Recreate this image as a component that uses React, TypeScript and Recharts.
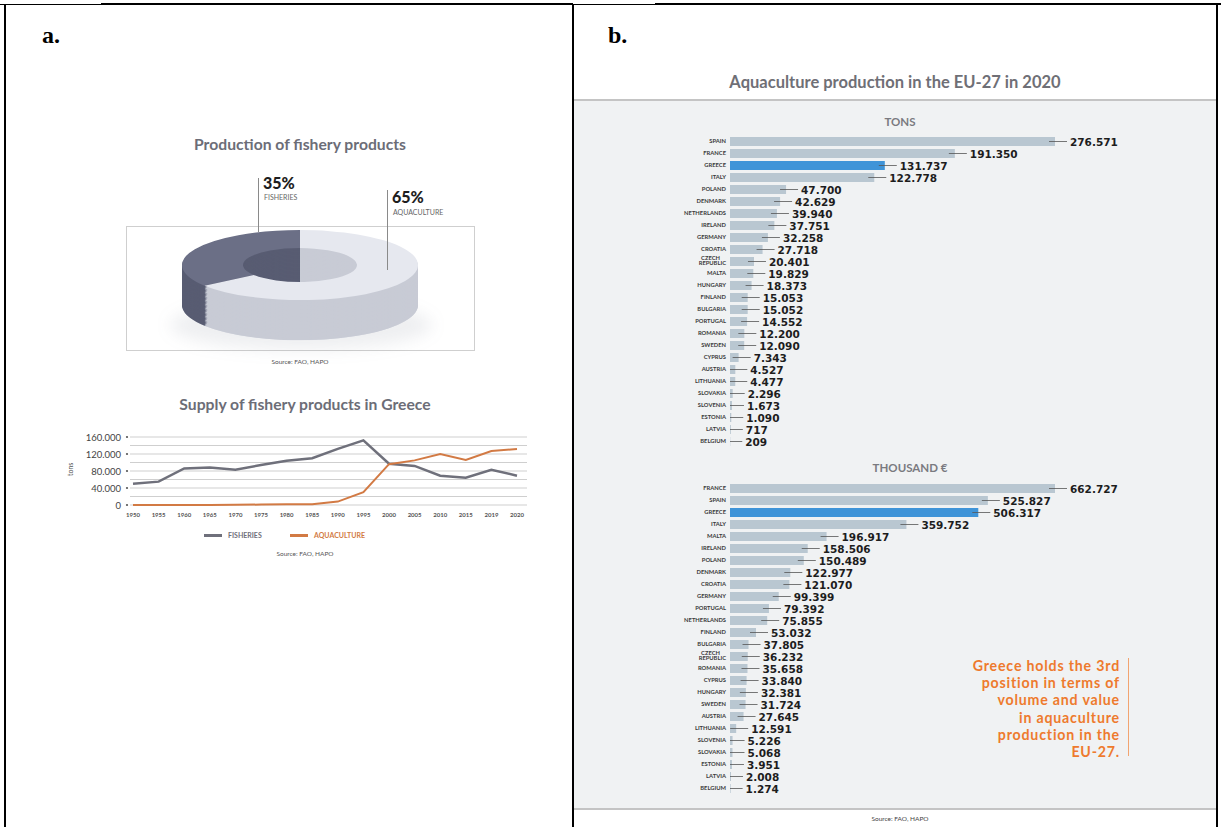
import React from 'react';
import {
  PieChart,
  Pie,
  Cell,
  LineChart,
  Line,
  XAxis,
  YAxis,
  CartesianGrid,
  BarChart,
  Bar,
  LabelList,
} from 'recharts';

// Production shares (%)
const shareLabels = ['FISHERIES', 'AQUACULTURE'];
const shareValues = [35, 65];

// Supply of fishery products in Greece (tons)
const years = ['1950', '1955', '1960', '1965', '1970', '1975', '1980', '1985', '1990', '1995', '2000', '2005', '2010', '2015', '2019', '2020'];
const fisheries = [50000, 55000, 86000, 88000, 83000, 94000, 104000, 110000, 132000, 152000, 97000, 92000, 69000, 64000, 83000, 69000];
const aquaculture = [0, 0, 0, 0, 500, 1000, 1500, 2000, 8000, 30000, 96000, 105000, 120000, 106000, 127000, 131737];
const supplyTicks = [0, 20000, 40000, 60000, 80000, 100000, 120000, 140000, 160000];

// EU-27 aquaculture 2020, tons
const tonsCountries = ['SPAIN', 'FRANCE', 'GREECE', 'ITALY', 'POLAND', 'DENMARK', 'NETHERLANDS', 'IRELAND', 'GERMANY', 'CROATIA', 'CZECH REPUBLIC', 'MALTA', 'HUNGARY', 'FINLAND', 'BULGARIA', 'PORTUGAL', 'ROMANIA', 'SWEDEN', 'CYPRUS', 'AUSTRIA', 'LITHUANIA', 'SLOVAKIA', 'SLOVENIA', 'ESTONIA', 'LATVIA', 'BELGIUM'];
const tonsValues = [276571, 191350, 131737, 122778, 47700, 42629, 39940, 37751, 32258, 27718, 20401, 19829, 18373, 15053, 15052, 14552, 12200, 12090, 7343, 4527, 4477, 2296, 1673, 1090, 717, 209];

// EU-27 aquaculture 2020, thousand €
const euroCountries = ['FRANCE', 'SPAIN', 'GREECE', 'ITALY', 'MALTA', 'IRELAND', 'POLAND', 'DENMARK', 'CROATIA', 'GERMANY', 'PORTUGAL', 'NETHERLANDS', 'FINLAND', 'BULGARIA', 'CZECH REPUBLIC', 'ROMANIA', 'CYPRUS', 'HUNGARY', 'SWEDEN', 'AUSTRIA', 'LITHUANIA', 'SLOVENIA', 'SLOVAKIA', 'ESTONIA', 'LATVIA', 'BELGIUM'];
const euroValues = [662727, 525827, 506317, 359752, 196917, 158506, 150489, 122977, 121070, 99399, 79392, 75855, 53032, 37805, 36232, 35658, 33840, 32381, 31724, 27645, 12591, 5226, 5068, 3951, 2008, 1274];

const noteLines = ['Greece holds the 3rd', 'position in terms of', 'volume and value', 'in aquaculture', 'production in the', 'EU-27.'];

const shareData = shareLabels.map((name, i) => ({ name, value: shareValues[i] }));
const supplyData = years.map((year, i) => ({ year, fisheries: fisheries[i], aquaculture: aquaculture[i] }));
const tonsData = tonsCountries.map((country, i) => ({ country, value: tonsValues[i] }));
const euroData = euroCountries.map((country, i) => ({ country, value: euroValues[i] }));

const SANS = 'Lato, "Open Sans", sans-serif';
const NUM = '"DejaVu Sans", Lato, sans-serif';
const fmt = (v: number) => String(v).replace(/\B(?=(\d{3})+(?!\d))/g, '.');

const topColors = ['#6b6f86', '#e6e8ef'];
const sideColors = ['#585c72', '#c8cbd5'];

// extruded donut: stacked rings, squashed vertically
const DEPTH = 135;
const LAYERS = 30;

const Donut3D = () => {
  const layers = Array.from({ length: LAYERS }, (_, i) => 118 + DEPTH - (i * DEPTH) / LAYERS);
  return (
    <PieChart width={236} height={236 + DEPTH} margin={{ top: 0, right: 0, bottom: 0, left: 0 }}>
      <Pie
        data={[{ value: 1 }]}
        dataKey="value"
        cx={118}
        cy={118 + DEPTH}
        outerRadius={118}
        innerRadius={0}
        fill="#d5d8e0"
        stroke="none"
        isAnimationActive={false}
      />
      {layers.map((cy, li) => (
        <Pie
          key={li}
          data={shareData}
          dataKey="value"
          cx={118}
          cy={cy}
          outerRadius={118}
          innerRadius={57}
          startAngle={90}
          endAngle={450}
          stroke="none"
          isAnimationActive={false}
        >
          {shareData.map((d, i) => (
            <Cell key={d.name} fill={sideColors[i]} />
          ))}
        </Pie>
      ))}
      <Pie
        data={shareData}
        dataKey="value"
        cx={118}
        cy={118}
        outerRadius={118}
        innerRadius={57}
        startAngle={90}
        endAngle={450}
        stroke="none"
        isAnimationActive={false}
      >
        {shareData.map((d, i) => (
          <Cell key={d.name} fill={topColors[i]} />
        ))}
      </Pie>
    </PieChart>
  );
};

const SupplyTick = (props: any) => {
  const { x, y, payload } = props;
  if (payload.value % 40000 !== 0) return <g />;
  return (
    <g>
      <text x={x - 9} y={y} dy={3.5} textAnchor="end" fontSize={9.5} fill="#444" fontFamily={SANS}>
        {fmt(payload.value)}
      </text>
      <circle cx={x - 3} cy={y} r={1.1} fill="#555" />
    </g>
  );
};

const CountryTick = (props: any) => {
  const { x, y, payload } = props;
  const words: string[] = payload.value === 'CZECH REPUBLIC' ? ['CZECH', 'REPUBLIC'] : [payload.value];
  return (
    <text x={x} y={y} textAnchor="end" fontSize={5.8} fill="#3a3a3a" fontFamily={SANS} fontWeight={700}>
      {words.length === 1 ? (
        <tspan x={x} dy={2}>{words[0]}</tspan>
      ) : (
        <>
          <tspan x={x - 6} dy={-1.5}>{words[0]}</tspan>
          <tspan x={x} dy={5.8}>{words[1]}</tspan>
        </>
      )}
    </text>
  );
};

const ValueLabel = (props: any) => {
  const { x, y, width, height, value } = props;
  const end = x + width;
  const cy = y + height / 2;
  return (
    <g>
      <line x1={Math.max(x, end - 6)} x2={end + 12} y1={cy} y2={cy} stroke="#555" strokeWidth={0.8} />
      <text x={end + 15} y={cy} dy={4} fontSize={10.5} fontWeight={700} fill="#1d1d1d" fontFamily={NUM}>
        {fmt(value)}
      </text>
    </g>
  );
};

const CountryBars = ({ data, top }: { data: { country: string; value: number }[]; top: number }) => (
  <div style={{ position: 'absolute', left: 665, top }}>
    <BarChart layout="vertical" width={470} height={322} data={data} margin={{ top: 5, right: 80, bottom: 5, left: 0 }}>
      <XAxis type="number" hide domain={[0, 'dataMax']} />
      <YAxis
        type="category"
        dataKey="country"
        width={65}
        axisLine={false}
        tickLine={false}
        tickSize={0}
        tickMargin={4}
        interval={0}
        tick={<CountryTick />}
      />
      <Bar dataKey="value" barSize={9} isAnimationActive={false}>
        {data.map((d) => (
          <Cell key={d.country} fill={d.country === 'GREECE' ? '#3f94d8' : '#b9c7d1'} />
        ))}
        <LabelList dataKey="value" content={<ValueLabel />} />
      </Bar>
    </BarChart>
  </div>
);

const abs = (left: number, top: number, extra: React.CSSProperties = {}): React.CSSProperties => ({
  position: 'absolute',
  left,
  top,
  ...extra,
});

export default function App() {
  return (
    <div style={{ position: 'absolute', left: 0, top: 0, width: 1221, height: 827, background: '#fff', overflow: 'hidden', fontFamily: SANS }}>
      {/* table frame */}
      <div style={abs(0, 4, { width: 1221, height: 1, background: '#000' })} />
      <div style={abs(101, 3, { width: 472, height: 2, background: '#000' })} />
      <div style={abs(655, 3, { width: 566, height: 2, background: '#000' })} />
      <div style={abs(4, 4, { width: 2, height: 823, background: '#000' })} />
      <div style={abs(572, 4, { width: 2, height: 823, background: '#000' })} />
      <div style={abs(1216, 4, { width: 2, height: 823, background: '#000' })} />

      <div style={abs(42, 22, { fontFamily: '"Liberation Serif", "Times New Roman", serif', fontWeight: 700, fontSize: 24 })}>a.</div>
      <div style={abs(608, 22, { fontFamily: '"Liberation Serif", "Times New Roman", serif', fontWeight: 700, fontSize: 24 })}>b.</div>

      {/* panel a: production shares */}
      <div style={abs(100, 135, { width: 400, textAlign: 'center', fontSize: 15.7, fontWeight: 700, color: '#6c6d77' })}>
        Production of fishery products
      </div>
      <div style={abs(126, 226, { width: 347, height: 123, border: '1px solid #cfcfcf' })} />
      <div style={abs(170, 300, { width: 262, height: 50, borderRadius: '50%', background: 'rgba(90,95,115,0.10)', filter: 'blur(8px)' })} />
      <div style={abs(182, 230, { transform: 'scaleY(0.297)', transformOrigin: 'top left' })}>
        <Donut3D />
      </div>
      <div style={abs(258, 178, { width: 1, height: 54, background: '#8a8a8a' })} />
      <div style={abs(263, 174, { fontSize: 16, fontWeight: 900, color: '#1e1e1e', lineHeight: '18px' })}>{shareValues[0]}%</div>
      <div style={abs(264, 193, { fontSize: 7, color: '#666', lineHeight: '9px' })}>{shareLabels[0]}</div>
      <div style={abs(387, 190, { width: 1, height: 80, background: '#8a8a8a' })} />
      <div style={abs(392, 188, { fontSize: 16, fontWeight: 900, color: '#1e1e1e', lineHeight: '18px' })}>{shareValues[1]}%</div>
      <div style={abs(393, 208, { fontSize: 7, color: '#666', lineHeight: '9px' })}>{shareLabels[1]}</div>
      <div style={abs(100, 358, { width: 400, textAlign: 'center', fontSize: 6.5, color: '#555' })}>Source: FAO, HAPO</div>

      {/* panel a: supply over time */}
      <div style={abs(100, 395, { width: 410, textAlign: 'center', fontSize: 15.7, fontWeight: 700, color: '#6c6d77' })}>
        Supply of fishery products in Greece
      </div>
      <div style={abs(66, 476, { fontSize: 7, color: '#555', transform: 'rotate(-90deg)', transformOrigin: 'left top' })}>tons</div>
      <div style={abs(60, 432)}>
        <LineChart width={472} height={93} data={supplyData} margin={{ top: 5, right: 5, bottom: 0, left: 0 }}>
          <CartesianGrid vertical={false} stroke="#cfcfcf" />
          <XAxis
            dataKey="year"
            interval={0}
            axisLine={false}
            tickLine={false}
            tickMargin={2}
            height={20}
            padding={{ left: 3, right: 10 }}
            tick={{ fontSize: 6, fill: '#555', fontWeight: 700, fontFamily: SANS }}
          />
          <YAxis
            width={70}
            ticks={supplyTicks}
            domain={[0, 160000]}
            interval={0}
            axisLine={false}
            tickLine={false}
            tickSize={0}
            tickMargin={0}
            tick={<SupplyTick />}
          />
          <Line type="linear" dataKey="fisheries" stroke="#6f707b" strokeWidth={2.5} dot={false} isAnimationActive={false} />
          <Line type="linear" dataKey="aquaculture" stroke="#d27a44" strokeWidth={2} dot={false} isAnimationActive={false} />
        </LineChart>
      </div>
      <div style={abs(204, 534, { width: 18, height: 2.5, background: '#6f707b' })} />
      <div style={abs(228, 531, { fontSize: 7, fontWeight: 700, color: '#6f707b' })}>FISHERIES</div>
      <div style={abs(290, 534, { width: 18, height: 2.5, background: '#d27a44' })} />
      <div style={abs(314, 531, { fontSize: 7, fontWeight: 700, color: '#d27a44' })}>AQUACULTURE</div>
      <div style={abs(100, 550, { width: 410, textAlign: 'center', fontSize: 6.5, color: '#555' })}>Source: FAO, HAPO</div>

      {/* panel b */}
      <div style={abs(574, 72, { width: 642, textAlign: 'center', fontSize: 16.5, fontWeight: 700, color: '#6f6f76' })}>
        Aquaculture production in the EU-27 in 2020
      </div>
      <div style={abs(574, 99, { width: 642, height: 707, background: '#f0f2f3', borderTop: '2px solid #c4c4c4', borderBottom: '2px solid #c4c4c4' })} />
      <div style={abs(800, 115, { width: 200, textAlign: 'center', fontSize: 11.5, fontWeight: 700, color: '#7a7a80' })}>TONS</div>
      <CountryBars data={tonsData} top={130} />
      <div style={abs(810, 461, { width: 200, textAlign: 'center', fontSize: 11.5, fontWeight: 700, color: '#7a7a80' })}>THOUSAND €</div>
      <CountryBars data={euroData} top={477} />
      {noteLines.map((line, i) => (
        <div
          key={line}
          style={abs(870, 657 + i * 17.2, {
            width: 250,
            textAlign: 'right',
            fontSize: 14.2,
            fontWeight: 700,
            letterSpacing: 0.8,
            color: '#ee7a2d',
            lineHeight: '17px',
            whiteSpace: 'nowrap',
          })}
        >
          {line}
        </div>
      ))}
      <div style={abs(1128, 658, { width: 1, height: 98, background: '#f2a470' })} />
      <div style={abs(800, 815, { width: 200, textAlign: 'center', fontSize: 6.5, color: '#444' })}>Source: FAO, HAPO</div>
    </div>
  );
}
